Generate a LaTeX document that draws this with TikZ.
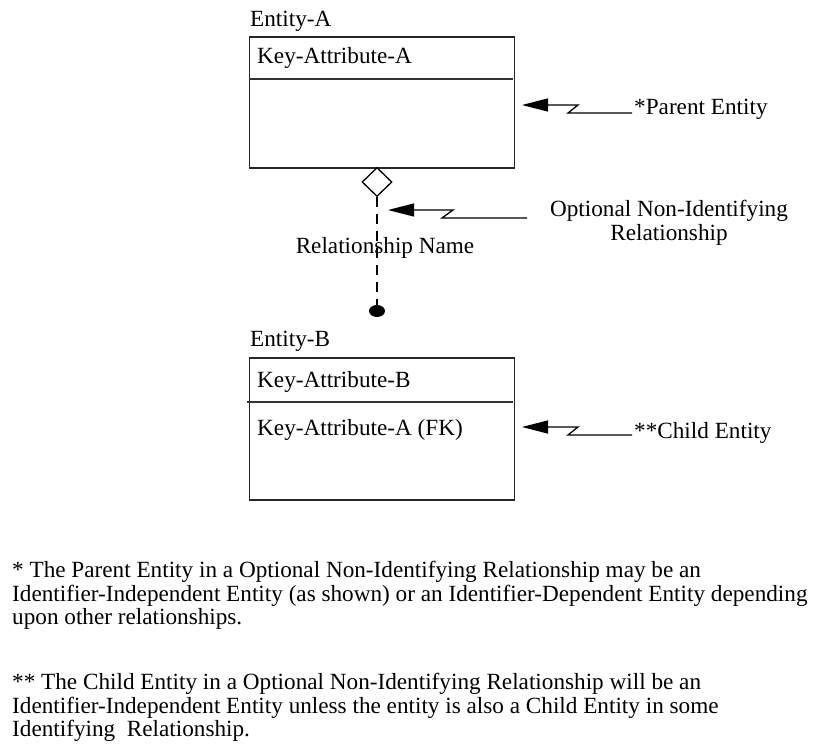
\documentclass[tikz,border=0pt]{standalone}
\usepackage{fontspec}
\setmainfont{Liberation Serif}
\usetikzlibrary{arrows.meta,shapes.geometric}
\begin{document}
\begin{tikzpicture}[x=1pt,y=-1pt,
  lbl/.style={anchor=base west, inner sep=0pt, font=\fontsize{23.2}{24}\selectfont},
  clbl/.style={anchor=base, inner sep=0pt, font=\fontsize{23.2}{24}\selectfont},
  ent/.style={draw=black!85, line width=1.4pt, minimum width=265pt, inner sep=0pt},
  divider/.style={draw=black!80, line width=1.2pt},
  ptr/.style={line width=1.3pt, -{Triangle[length=26pt,width=13pt]}},
  rel/.style={line width=1.3pt, dash pattern=on 10pt off 7pt},
]
\useasboundingbox (0,0) rectangle (813,744);
% Entity A
\node[lbl] (eA) at (250,26) {Entity-A};
\node[ent, minimum height=131pt] (A) at (382,102.5) {};
\draw[divider] (249,79) -- (513,79);
\node[lbl] (kA) at (257,63) {Key-Attribute-A};
% Entity B
\node[lbl] (eB) at (250,346) {Entity-B};
\node[ent, minimum height=142pt] (B) at (382,429) {};
\draw[divider] (247,402) -- (513,402);
\node[lbl] (kB) at (257,387) {Key-Attribute-B};
\node[lbl] (fk) at (257,435) {Key-Attribute-A (FK)};
% relationship
\node[diamond, draw, line width=1.3pt, fill=white, minimum width=30pt, minimum height=29pt, inner sep=0pt] (d) at (377,182) {};
\node[ellipse, fill=black, minimum width=16pt, minimum height=12pt, inner sep=0pt] (dot) at (377,311) {};
\draw[rel] (d.south) -- (dot.north);
\node[clbl] (rn) at (385,253) {Relationship Name};
% labels and pointers
\node[lbl] (pe) at (634,114) {*Parent Entity};
\coordinate (pa) at (522,105);
\draw[ptr] ([xshift=-2pt]pe.base west |- 0,113) -- (568,113) -- (578,105) -- (pa);
\node[clbl] (onr1) at (669,216) {Optional Non-Identifying};
\node[clbl] (onr2) at (669,240) {Relationship};
\coordinate (ra) at (388,210);
\draw[ptr] (527,218) -- (442,218) -- (453,210) -- (ra);
\node[lbl] (ce) at (634,438) {**Child Entity};
\coordinate (ca) at (522,427);
\draw[ptr] ([xshift=-2pt]ce.base west |- 0,435) -- (568,435) -- (578,427) -- (ca);
% footnotes
\node[lbl] (f1) at (12,577) {* The Parent Entity in a Optional Non-Identifying Relationship may be an};
\node[lbl] (f2) at (12,601) {Identifier-Independent Entity (as shown) or an Identifier-Dependent Entity depending};
\node[lbl] (f3) at (12,624) {upon other relationships.};
\node[lbl] (f4) at (12,689) {** The Child Entity in a Optional Non-Identifying Relationship will be an};
\node[lbl] (f5) at (12,713) {Identifier-Independent Entity unless the entity is also a Child Entity in some};
\node[lbl] (f6) at (12,736) {Identifying\ \ Relationship.};
\end{tikzpicture}
\end{document}
